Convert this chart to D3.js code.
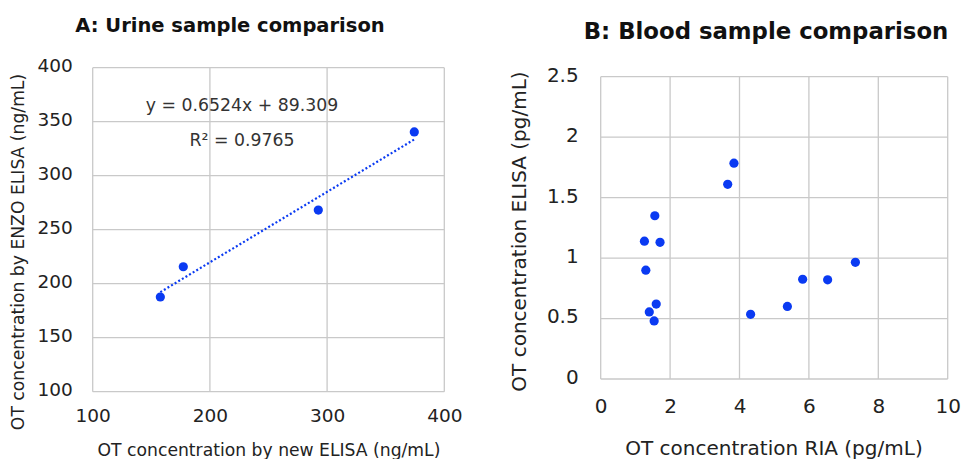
<!DOCTYPE html>
<html><head><meta charset="utf-8">
<script src="https://cdn.jsdelivr.net/npm/d3@7/dist/d3.min.js"></script>
<style>
body{margin:0;background:#fff;}
svg{display:block;font-family:"DejaVu Sans",Verdana,sans-serif;}
</style></head>
<body><svg id="c" width="961" height="459"></svg>
<script>
// Panel A: urine
const urineNewElisa = [157.7, 177.3, 292.5, 374.4];
const urineEnzoElisa = [187.7, 215.7, 268.2, 340.5];
const urineXTicks = [100, 200, 300, 400];
const urineYTicks = [100, 150, 200, 250, 300, 350, 400];
const trendSlope = 0.6524, trendIntercept = 89.309;
const trendText = ["y = 0.6524x + 89.309", "R² = 0.9765"];

// Panel B: blood
const bloodRIA = [3.84, 3.66, 1.56, 1.26, 1.71, 1.30, 1.60, 1.40, 1.54, 4.32, 5.38, 5.82, 6.54, 7.34];
const bloodElisa = [1.785, 1.61, 1.35, 1.14, 1.13, 0.90, 0.62, 0.555, 0.48, 0.535, 0.60, 0.825, 0.82, 0.965];
const bloodXTicks = [0, 2, 4, 6, 8, 10];
const bloodYTicks = [0, 0.5, 1, 1.5, 2, 2.5];

const svg = d3.select("#c");
const grid = "#c9c9c9", blue = "#0a3af2", txt = "#222";

function panel(o){
  const x = d3.scaleLinear().domain(o.xd).range([o.l, o.r]);
  const y = d3.scaleLinear().domain(o.yd).range([o.b, o.t]);
  const g = svg.append("g");
  g.selectAll(".gx").data(o.xt).join("line")
    .attr("x1", d=>x(d)).attr("x2", d=>x(d)).attr("y1", o.t).attr("y2", o.b)
    .attr("stroke", grid).attr("stroke-width", 1.3);
  g.selectAll(".gy").data(o.yt).join("line")
    .attr("y1", d=>y(d)).attr("y2", d=>y(d)).attr("x1", o.l).attr("x2", o.r)
    .attr("stroke", grid).attr("stroke-width", 1.3);
  const xa = g.append("g").attr("transform", `translate(0,${o.b})`)
    .call(d3.axisBottom(x).tickValues(o.xt).tickSize(0).tickPadding(o.xpad).tickFormat(d=>d));
  const ya = g.append("g").attr("transform", `translate(${o.l},0)`)
    .call(d3.axisLeft(y).tickValues(o.yt).tickSize(0).tickPadding(o.ypad).tickFormat(d=>d));
  [xa, ya].forEach(a=>{
    a.select(".domain").remove();
    a.selectAll("text").attr("font-size", o.fs).attr("fill", txt).attr("font-family", "DejaVu Sans, Verdana, sans-serif");
  });
  ya.selectAll("text").attr("dy", "0.22em");
  svg.append("text").attr("x", o.tx).attr("y", o.ty).attr("text-anchor", "middle")
    .attr("font-weight", "bold").attr("font-size", o.tfs).attr("fill", "#111").text(o.title);
  svg.append("text").attr("x", o.xlx).attr("y", o.xly).attr("text-anchor", "middle")
    .attr("font-size", o.lfs).attr("fill", txt).text(o.xlabel);
  svg.append("text").attr("transform", `translate(${o.ylx},${o.yly}) rotate(-90)`).attr("text-anchor", "middle")
    .attr("font-size", o.lfs).attr("fill", txt).text(o.ylabel);
  return {x, y, g};
}

const A = panel({xd:[100,400], yd:[100,400], l:92.7, r:444.3, t:67.7, b:391.7,
  xt:urineXTicks, yt:urineYTicks, fs:18.5, xpad:17, ypad:20,
  title:"A: Urine sample comparison", tx:230, ty:32, tfs:19.5,
  xlabel:"OT concentration by new ELISA (ng/mL)", xlx:269, xly:456,
  ylabel:"OT concentration by ENZO ELISA (ng/mL)", ylx:24, yly:252, lfs:17.2});

const x0 = d3.min(urineNewElisa), x1 = d3.max(urineNewElisa);
A.g.append("line")
  .attr("x1", A.x(x0)).attr("y1", A.y(trendSlope*x0+trendIntercept))
  .attr("x2", A.x(x1)).attr("y2", A.y(trendSlope*x1+trendIntercept))
  .attr("stroke", blue).attr("stroke-width", 2.2).attr("stroke-dasharray", "2,2.2");
A.g.selectAll(".pa").data(urineNewElisa).join("circle")
  .attr("cx", d=>A.x(d)).attr("cy", (d,i)=>A.y(urineEnzoElisa[i])).attr("r", 4.6).attr("fill", blue);
svg.append("text").attr("x", 242).attr("y", 111).attr("text-anchor", "middle").attr("font-size", 17.3).attr("fill", "#333").text(trendText[0]);
svg.append("text").attr("x", 242).attr("y", 145.5).attr("text-anchor", "middle").attr("font-size", 17.3).attr("fill", "#333").text(trendText[1]);

const B = panel({xd:[0,10], yd:[0,2.5], l:600.7, r:947.7, t:76.7, b:379,
  xt:bloodXTicks, yt:bloodYTicks, fs:20, xpad:20, ypad:22,
  title:"B: Blood sample comparison", tx:766, ty:39, tfs:22.8,
  xlabel:"OT concentration RIA (pg/mL)", xlx:774, xly:455,
  ylabel:"OT concentration ELISA (pg/mL)", ylx:526, yly:231.5, lfs:20});
B.g.selectAll(".pb").data(bloodRIA).join("circle")
  .attr("cx", d=>B.x(d)).attr("cy", (d,i)=>B.y(bloodElisa[i])).attr("r", 4.6).attr("fill", blue);
</script></body></html>
